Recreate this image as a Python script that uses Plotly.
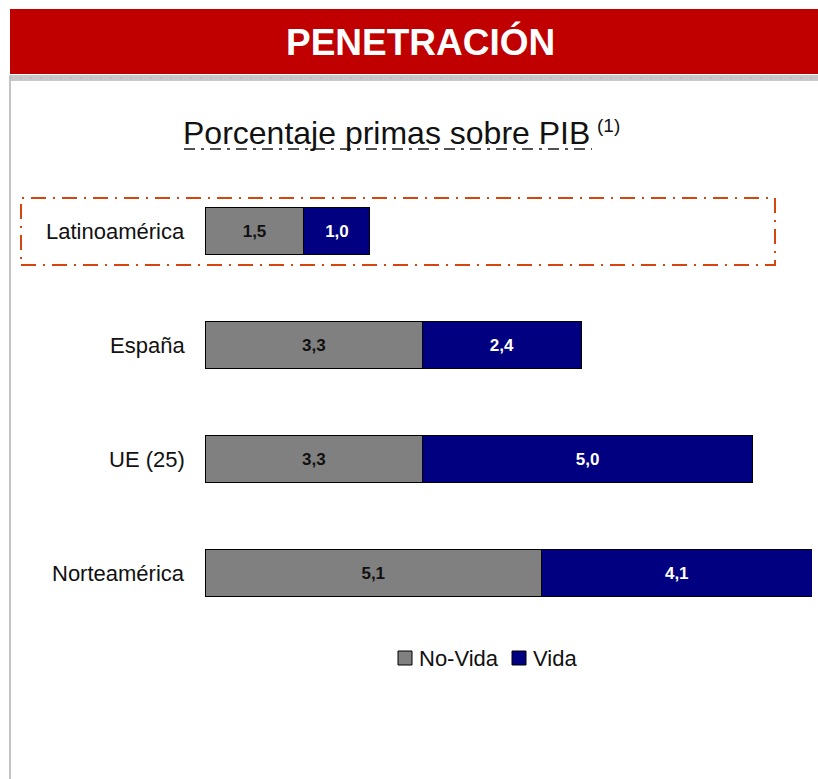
import plotly.graph_objects as go

W, H = 818, 779

categories = ["Latinoamérica", "España", "UE (25)", "Norteamérica"]
no_vida = [1.5, 3.3, 3.3, 5.1]
vida = [1.0, 2.4, 5.0, 4.1]
series_names = ["No-Vida", "Vida"]
colors = ["#808080", "#000080"]
title_text = "PENETRACIÓN"
subtitle_text = "Porcentaje primas sobre PIB"
subtitle_note = "(1)"


def px(x):
    return x / W


def py(y):
    return 1 - y / H


def fmt(v):
    return f"{v:.1f}".replace(".", ",")


SANS = "Liberation Sans, Arial, sans-serif"

fig = go.Figure()
for name, vals, col, tcol in [
    (series_names[0], no_vida, colors[0], "#111111"),
    (series_names[1], vida, colors[1], "#ffffff"),
]:
    fig.add_trace(go.Bar(
        y=categories, x=vals, name=name, orientation="h",
        marker=dict(color=col, line=dict(color="#000000", width=1)),
        text=[fmt(v) for v in vals], textposition="inside",
        insidetextanchor="middle", textangle=0,
        textfont=dict(family=SANS, size=17, color=tcol, weight="bold"),
        showlegend=False, hoverinfo="skip",
    ))

shapes = []
# red banner
shapes.append(dict(type="rect", xref="paper", yref="paper", x0=px(10), x1=px(818),
                   y0=py(74), y1=py(9), fillcolor="#C00000", line=dict(width=0), layer="below"))
# gray strip
shapes.append(dict(type="rect", xref="paper", yref="paper", x0=px(10), x1=px(818),
                   y0=py(81), y1=py(75), fillcolor="#C8C8C8", line=dict(width=0), layer="below"))
shapes.append(dict(type="line", xref="paper", yref="paper", x0=px(10), x1=px(818),
                   y0=py(78), y1=py(78), line=dict(color="#B4B4B4", width=1, dash="2px,8px")))
# left vertical line
shapes.append(dict(type="rect", xref="paper", yref="paper", x0=px(9), x1=px(11),
                   y0=0, y1=py(75), fillcolor="#C4C4C4", line=dict(width=0), layer="below"))
# dashed highlight box
shapes.append(dict(type="rect", xref="paper", yref="paper", x0=px(21), x1=px(775),
                   y0=py(265), y1=py(198), line=dict(color="#D4460E", width=2, dash="15px,7px,2px,7px"),
                   layer="below"))
# subtitle underline (dash-dot)
shapes.append(dict(type="line", xref="paper", yref="paper", x0=px(184), x1=px(592),
                   y0=py(149), y1=py(149), line=dict(color="#1a1a1a", width=1.5, dash="11px,6px,3px,6px")))
# legend squares
for x0, col in [(398, colors[0]), (512, colors[1])]:
    shapes.append(dict(type="rect", xref="paper", yref="paper", x0=px(x0), x1=px(x0 + 14),
                       y0=py(665), y1=py(651), fillcolor=col, line=dict(color="#000000", width=1)))

annotations = []
annotations.append(dict(text=f"<b>{title_text}</b>", xref="paper", yref="paper", x=px(421), y=py(42),
                        xanchor="center", yanchor="middle", showarrow=False,
                        font=dict(family=SANS, size=37, color="#ffffff")))
annotations.append(dict(text=subtitle_text, xref="paper", yref="paper", x=px(181), y=py(133),
                        xanchor="left", yanchor="middle", showarrow=False,
                        font=dict(family=SANS, size=32, color="#111111")))
annotations.append(dict(text=subtitle_note, xref="paper", yref="paper", x=px(595), y=py(126),
                        xanchor="left", yanchor="middle", showarrow=False,
                        font=dict(family=SANS, size=19, color="#111111")))
for c in categories:
    annotations.append(dict(text=c, xref="paper", yref="y", x=px(187), y=c,
                            xanchor="right", yanchor="middle", showarrow=False,
                            font=dict(family=SANS, size=22, color="#111111")))
for x0, name in [(417, series_names[0]), (531, series_names[1])]:
    annotations.append(dict(text=name, xref="paper", yref="paper", x=px(x0), y=py(658),
                            xanchor="left", yanchor="middle", showarrow=False,
                            font=dict(family=SANS, size=22, color="#111111")))

fig.update_layout(
    width=W, height=H, autosize=False,
    margin=dict(l=0, r=0, t=0, b=0, pad=0),
    paper_bgcolor="#ffffff", plot_bgcolor="rgba(0,0,0,0)",
    barmode="stack", bargap=0.596,
    xaxis=dict(domain=[px(205), px(812)], range=[0, 9.2], visible=False, fixedrange=True),
    yaxis=dict(domain=[py(630), py(174)], range=[3.5, -0.5], type="category",
               categoryorder="array", categoryarray=categories, visible=False, fixedrange=True),
    shapes=shapes, annotations=annotations,
)

fig.write_html("out.html", config={"displayModeBar": False},
               post_script="document.body.style.margin='0';document.body.style.overflow='hidden';")
